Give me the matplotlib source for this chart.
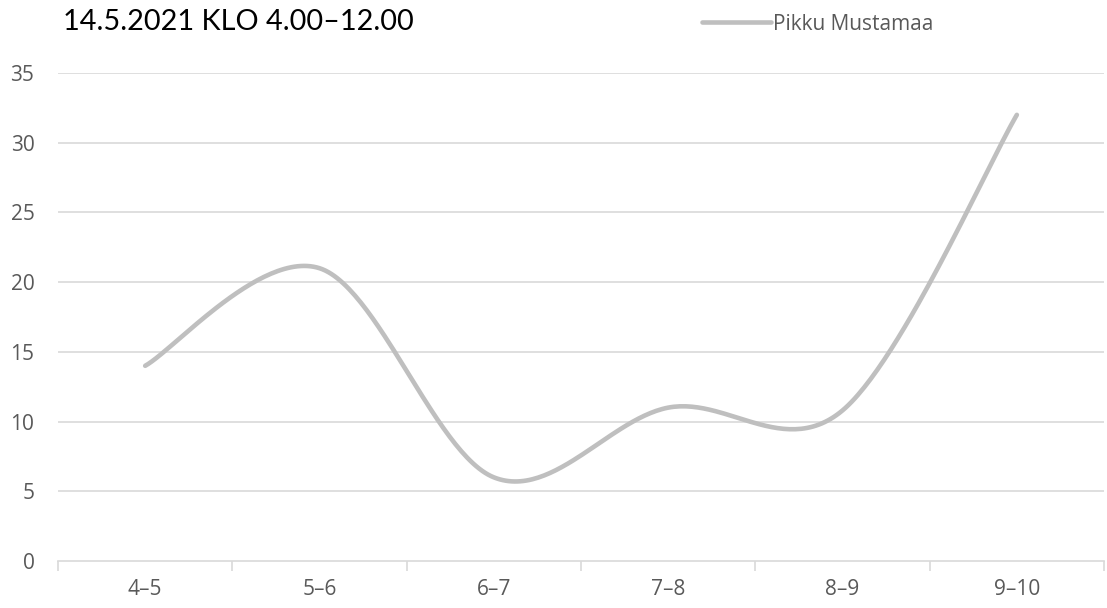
import numpy as np
import matplotlib
matplotlib.use("Agg")
import matplotlib.pyplot as plt

categories = ["4\u20135", "5\u20136", "6\u20137", "7\u20138", "8\u20139", "9\u201310"]
values = [14, 21, 6, 11, 10.8, 32]
series_name = "Pikku Mustamaa"
title = "14.5.2021 KLO 4.00\u201312.00"
yticks = [0, 5, 10, 15, 20, 25, 30, 35]

line_color = "#BFBFBF"
grid_color = "#D9D9D9"
text_color = "#595959"


def excel_smooth(x, y, n=60):
    # bezier segments like Excel's smoothed line
    x = np.asarray(x, float)
    y = np.asarray(y, float)
    px = np.concatenate([[x[0]], x, [x[-1]]])
    py = np.concatenate([[y[0]], y, [y[-1]]])
    xs, ys = [], []
    t = np.linspace(0, 1, n)
    for i in range(len(x) - 1):
        p0 = np.array([px[i + 1], py[i + 1]])
        p3 = np.array([px[i + 2], py[i + 2]])
        p1 = p0 + (np.array([px[i + 2], py[i + 2]]) - np.array([px[i], py[i]])) / 6
        p2 = p3 - (np.array([px[i + 3], py[i + 3]]) - np.array([px[i + 1], py[i + 1]])) / 6
        b = ((1 - t) ** 3)[:, None] * p0 + (3 * (1 - t) ** 2 * t)[:, None] * p1 \
            + (3 * (1 - t) * t ** 2)[:, None] * p2 + (t ** 3)[:, None] * p3
        xs.append(b[:, 0])
        ys.append(b[:, 1])
    return np.concatenate(xs), np.concatenate(ys)


fig = plt.figure(figsize=(11.07, 6.08), dpi=100)
ax = fig.add_axes([0.0524, 0.0773, 0.9449, 0.8026])

xpos = np.arange(len(categories))
sx, sy = excel_smooth(xpos, values)
ax.plot(sx, sy, color=line_color, lw=3.3, solid_capstyle="round", label=series_name)

ax.set_xlim(-0.5, len(categories) - 0.5)
ax.set_ylim(0, 35)
ax.set_yticks(yticks)
ax.set_xticks(xpos)
ax.set_xticklabels(categories)
ax.set_xticks(np.arange(-0.5, len(categories)), minor=True)

for yv in yticks[1:]:
    ax.axhline(yv, color=grid_color, lw=1.2, zorder=0)

for s in ["top", "right", "left"]:
    ax.spines[s].set_visible(False)
ax.spines["bottom"].set_color(grid_color)
ax.spines["bottom"].set_linewidth(1.2)

ax.tick_params(axis="y", length=0, pad=17, labelsize=15, labelcolor=text_color,
               labelfontfamily="Open Sans")
ax.tick_params(axis="x", which="major", length=0, pad=13, labelsize=15,
               labelcolor=text_color, labelfontfamily="Open Sans")
ax.tick_params(axis="x", which="minor", length=7, width=1.2, color=grid_color)

fig.text(0.057, 0.964, title, fontsize=20.8, family="Lato", color="#000000",
         va="center", ha="left")

leg = fig.legend(loc="center left", bbox_to_anchor=(0.617, 0.9605), frameon=False,
                 handlelength=3.3, handletextpad=0.1,
                 prop={"family": "Open Sans", "size": 15})
for t in leg.get_texts():
    t.set_color(text_color)

fig.savefig("out.png", dpi=100)
